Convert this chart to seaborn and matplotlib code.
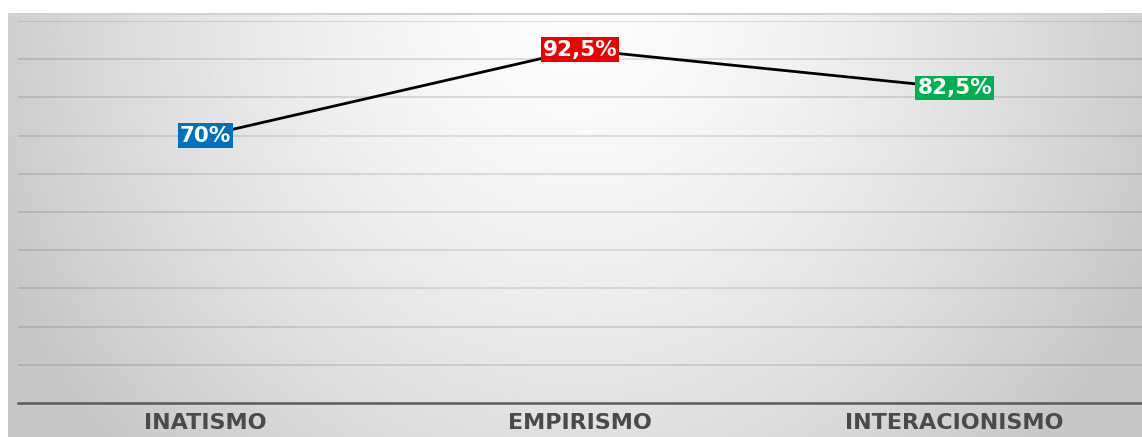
import numpy as np
import pandas as pd
import matplotlib
matplotlib.use("Agg")
import matplotlib.pyplot as plt
import seaborn as sns

categories = ["INATISMO", "EMPIRISMO", "INTERACIONISMO"]
values = [70.0, 92.5, 82.5]
value_labels = ["70%", "92,5%", "82,5%"]
box_colors = ["#0070C0", "#EE0000", "#00B050"]

df = pd.DataFrame({"cat": categories, "val": values})

sns.set_style("white")
plt.rcParams["font.family"] = ["DejaVu Sans"]

W, H = 1142, 437
fig = plt.figure(figsize=(W / 100, H / 100), dpi=100)
fig.patch.set_facecolor("white")

# background panel with radial gradient
bg = fig.add_axes([8 / W, 0, 1 - 8 / W, (H - 13) / H])
bg.set_axis_off()
ny, nx = 200, 500
yy, xx = np.mgrid[0:ny, 0:nx]
cx, cy = nx * 0.5, 0.0
d = np.sqrt(((xx - cx) / (nx * 0.55)) ** 2 + ((yy - cy) / (ny * 1.5)) ** 2)
d = np.clip(d, 0, 1)
shade = 0.99 - 0.21 * d ** 1.5
bg.imshow(shade, cmap="gray", vmin=0, vmax=1, aspect="auto",
          extent=[0, 1, 0, 1], origin="upper", interpolation="bilinear")
bg.set_xlim(0, 1)
bg.set_ylim(0, 1)
bg.axhline(1, color="#d0d0d0", lw=2)

ax = fig.add_axes([18 / W, (H - 403) / H, 1 - 18 / W, 382 / H])
ax.patch.set_alpha(0)
ax.set_ylim(0, 100)
ax.set_xlim(-0.5, 2.5)
ax.set_yticks(np.arange(10, 101, 10))
ax.yaxis.grid(True, color="black", alpha=0.13, lw=1.2)
ax.set_axisbelow(True)

sns.lineplot(data=df, x="cat", y="val", ax=ax, color="black", lw=2,
             sort=False, legend=False, zorder=3)

for i, (v, lab, c) in enumerate(zip(values, value_labels, box_colors)):
    ax.text(i, v, lab, ha="center", va="center", color="white",
            fontsize=15.5, fontweight="bold", zorder=5,
            bbox=dict(boxstyle="square,pad=0.1", fc=c, ec="none"))

for s in ["top", "right", "left"]:
    ax.spines[s].set_visible(False)
ax.spines["bottom"].set_color("#5a5a5a")
ax.spines["bottom"].set_linewidth(1.8)
ax.set_yticklabels([])
ax.tick_params(axis="y", length=0)
ax.tick_params(axis="x", length=0, pad=7.5)
ax.set_xticks(range(len(categories)))
ax.set_xticklabels(categories, fontsize=16, fontweight="bold", color="#4a4a4a")
ax.set_xlabel("")
ax.set_ylabel("")

fig.savefig("out.png", dpi=100, facecolor="white")
